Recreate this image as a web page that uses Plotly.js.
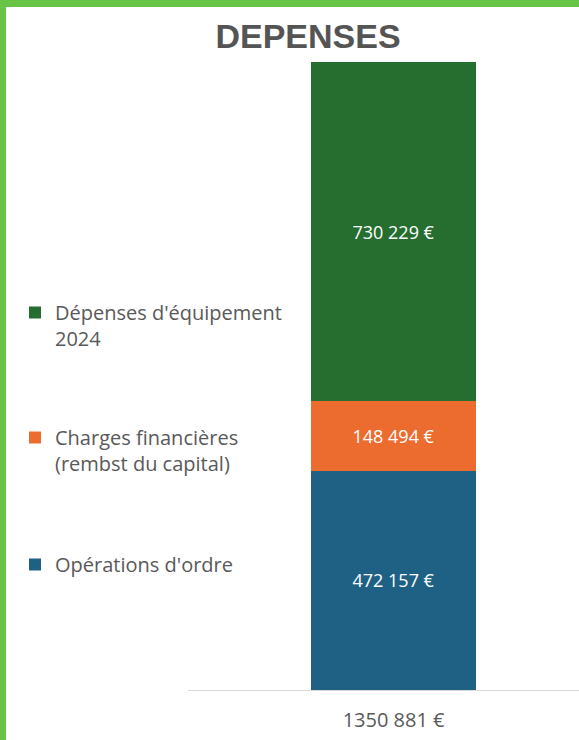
<!DOCTYPE html>
<html>
<head>
<meta charset="utf-8">
<script src="https://cdn.plot.ly/plotly-3.0.1.min.js"></script>
<style>
  html, body { margin: 0; padding: 0; background: #ffffff; }
  #wrap { width: 573px; height: 733px; border-top: 7px solid #67c444; border-left: 6px solid #67c444; overflow: hidden; }
  #chart { width: 573px; height: 733px; }
</style>
</head>
<body>
<div id="wrap"><div id="chart"></div></div>
<script>
// ---- data ----
const categories = ["1350 881 €"];
const seriesNames = ["Opérations d'ordre", "Charges financières<br>(rembst du capital)", "Dépenses d'équipement<br>2024"];
const operationsOrdre = [472157];
const chargesFinancieres = [148494];
const depensesEquipement = [730229];
const seriesColors = ["#1f6184", "#ec6c30", "#256e2f"];
const chartTitle = "DEPENSES";

const FONT = "Open Sans, Arial, sans-serif";
const GRAY = "#595959";

function barTrace(name, values, color, legendId) {
  return {
    type: "bar",
    x: categories,
    y: values,
    name: name,
    width: 0.4,
    marker: { color: color, line: { width: 0 } },
    texttemplate: "%{y:,.0f} €",
    textposition: "inside",
    insidetextanchor: "middle",
    textangle: 0,
    textfont: { family: FONT, size: 18, color: "#ffffff" },
    hoverinfo: "skip",
    legend: legendId
  };
}

const traces = [
  barTrace(seriesNames[0], operationsOrdre, seriesColors[0], "legend3"),
  barTrace(seriesNames[1], chargesFinancieres, seriesColors[1], "legend2"),
  barTrace(seriesNames[2], depensesEquipement, seriesColors[2], "legend")
];

const H = 733, W = 573;
const legendBase = {
  xref: "container", yref: "container",
  xanchor: "left", yanchor: "top",
  bgcolor: "rgba(0,0,0,0)",
  borderwidth: 0,
  valign: "top",
  font: { family: FONT, size: 20, color: GRAY }
};
function leg(pxX, pxY) {
  return Object.assign({}, legendBase, { x: (pxX - 6) / W, y: 1 - (pxY - 7) / H });
}

const layout = {
  width: W, height: H,
  margin: { l: 182, r: 0, t: 55, b: 50, pad: 0, autoexpand: false },
  paper_bgcolor: "#ffffff",
  plot_bgcolor: "rgba(0,0,0,0)",
  separators: ", ",
  barmode: "stack",
  showlegend: true,
  title: {
    text: "<b>" + chartTitle + "</b>",
    font: { family: "Liberation Sans, Arial, sans-serif", size: 34, color: "#545454" },
    xref: "container", yref: "container",
    x: (308 - 6) / W, xanchor: "center",
    y: 1 - (36 - 7) / H, yanchor: "middle"
  },
  xaxis: {
    type: "category",
    range: [-0.5, 0.451],
    showgrid: false,
    zeroline: false,
    showline: true,
    linecolor: "#d9d9d9",
    linewidth: 1,
    ticks: "outside",
    ticklen: 12,
    tickcolor: "rgba(0,0,0,0)",
    tickfont: { family: FONT, size: 20, color: GRAY },
    fixedrange: true
  },
  yaxis: {
    range: [0, 1350880],
    visible: false,
    showgrid: false,
    zeroline: false,
    fixedrange: true
  },
  legend: leg(15, 293),
  legend2: leg(15, 418),
  legend3: leg(15, 545)
};

Plotly.newPlot("chart", traces, layout, { displayModeBar: false, staticPlot: true });
</script>
</body>
</html>
